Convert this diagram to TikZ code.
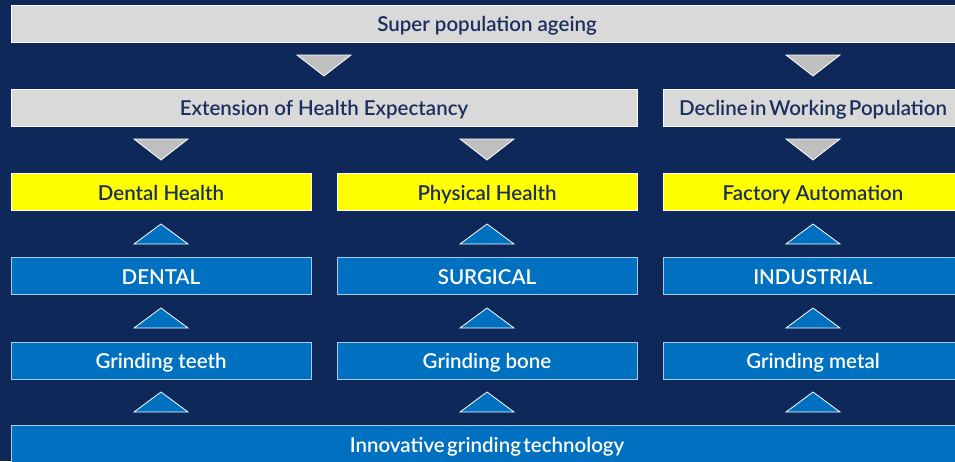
\documentclass[tikz,border=0pt]{standalone}
\usepackage{fontspec}
\setmainfont{Lato}[BoldFont={Lato Semibold}]
\definecolor{bg}{HTML}{0E2859}
\definecolor{boxgray}{HTML}{D9D9D9}
\definecolor{trigray}{HTML}{BFBFBF}
\definecolor{navytext}{HTML}{1C2E5E}
\definecolor{blu}{HTML}{0070C0}
\definecolor{bluedge}{HTML}{A9CBEA}
\definecolor{yel}{HTML}{FFFF00}
\newcommand\tightwords[1]{{\spaceskip=2.4pt\relax #1}}
\begin{document}
\begin{tikzpicture}[x=1pt,y=-1pt,
  lbl/.style={font=\fontsize{20.5}{22}\selectfont\bfseries, text height=17pt, text depth=1pt},
  box/.style={draw, line width=1pt, minimum height=37pt, inner sep=0pt, lbl},
  graybox/.style={box, fill=boxgray, draw=white, text=navytext},
  yellowbox/.style={box, fill=yel, draw=white, text=navytext},
  bluebox/.style={box, fill=blu, draw=bluedge, text=white},
  downtri/.style={fill=trigray, draw=white, line width=0.8pt, line join=miter},
  uptri/.style={fill=blu, draw=white, line width=0.8pt, line join=miter}]
\fill[bg] (0,0) rectangle (955,461);
\useasboundingbox (0,0) rectangle (955,461);
\clip (0,0) rectangle (955,461);
% top rows
\node[graybox, minimum width=952pt] (top) at (487,23.5) {Super population ageing};
\node[graybox, minimum width=626pt] (ext) at (324,107.5) {Extension of Health Expectancy};
\node[graybox, minimum width=300pt] (dec) at (813,107.5) {\tightwords{Decline in Working Population}};
% yellow row
\node[yellowbox, minimum width=300pt] (dh) at (161,192) {Dental Health};
\node[yellowbox, minimum width=300pt] (ph) at (487,192) {Physical Health};
\node[yellowbox, minimum width=300pt] (fa) at (813,192) {Factory Automation};
% blue rows
\node[bluebox, minimum width=300pt] (dental) at (161,276) {DENTAL};
\node[bluebox, minimum width=300pt] (surg) at (487,276) {SURGICAL};
\node[bluebox, minimum width=300pt] (ind) at (813,276) {INDUSTRIAL};
\node[bluebox, minimum width=300pt] (gt) at (161,360.5) {Grinding teeth};
\node[bluebox, minimum width=300pt] (gb) at (487,360.5) {Grinding bone};
\node[bluebox, minimum width=300pt] (gm) at (813,360.5) {Grinding metal};
\node[bluebox, minimum width=952pt, minimum height=40pt] (inn) at (487,445) {};
\node[text=white, lbl, inner sep=0pt] (innt) at (487,444) {\tightwords{Innovative grinding technology}};
% down triangles
\foreach \cx/\ty in {324/55, 813/55, 161/139, 487/139, 813/139}
  \draw[downtri] (\cx-27,\ty) -- (\cx+27,\ty) -- (\cx,\ty+21) -- cycle;
% up triangles
\foreach \cx in {161,487,813}
  \foreach \ty in {224,308,392}
    \draw[uptri] (\cx-27,\ty+20) -- (\cx+27,\ty+20) -- (\cx,\ty) -- cycle;
\end{tikzpicture}
\end{document}
